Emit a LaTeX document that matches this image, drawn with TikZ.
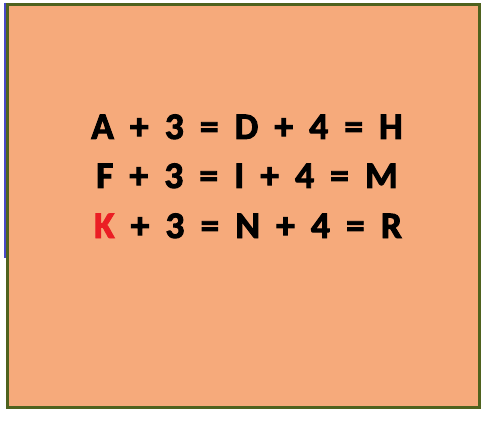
\documentclass[tikz,border=0pt]{standalone}
\usepackage{fontspec}
\newfontfamily\eqfont[WordSpace=1.9, BoldFeatures={FakeBold=2.5}]{Carlito}
\usepackage{tikz}
\usetikzlibrary{
	positioning				% Allows 5px above/below of x style positioning
	, calc
}
\definecolor{cardfill}{RGB}{246,170,123}
\definecolor{cardborder}{RGB}{79,98,30}
\definecolor{cardedge}{RGB}{72,72,200}
\definecolor{letterred}{RGB}{235,30,36}

\begin{document}
\begin{tikzpicture}[x=1pt, y=1pt
		, card/.style={draw=cardborder, fill=cardfill, line width=3pt}
		, sideline/.style={draw=cardedge, line width=2pt}
		, equation/.style={anchor=base, inner sep=0pt, font=\eqfont\bfseries\fontsize{37.5}{49}\selectfont}]

		\useasboundingbox (0, 0) rectangle (485, 432);

		%%% Card
		\draw[sideline] (5, 429) coordinate (edgetop) -- (5, 174) coordinate (edgebottom);
		\draw[card] (7.5, 24.5) rectangle (479.5, 427);

		%%% Equations
		\node[equation] (rowone) at (247, 293) {A + 3 = D + 4 = H};
		\node[equation] (rowtwo) at (247, 244) {F + 3 = I + 4 = M};
		\node[equation] (rowthree) at (248, 194) {\textcolor{letterred}{K} + 3 = N + 4 = R};
	\end{tikzpicture}
\end{document}
